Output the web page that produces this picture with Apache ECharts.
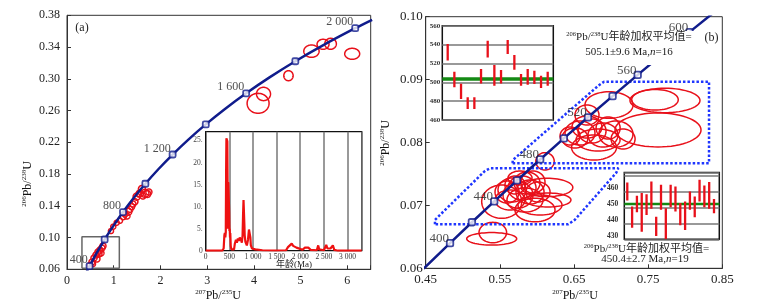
<!DOCTYPE html>
<html><head><meta charset="utf-8">
<script src="https://cdn.jsdelivr.net/npm/echarts@6/dist/echarts.min.js"></script>
<style>html,body{margin:0;padding:0;background:#fff}#c{width:769px;height:306px}</style>
</head><body><div id="c"></div>
<script>
// ---------- DATA ----------
// Concordia (a): age (Ma), 207Pb/235U, 206Pb/238U
const concA_age = [300,400,500,600,700,800,900,1000,1100,1200,1300,1400,1500,1600,1700,1800,1900,2000,2050];
const concA_x = [0.34374,0.48281,0.63628,0.80564,0.99251,1.19873,1.42629,1.67741,1.95452,2.26030,2.59774,2.97010,3.38099,3.83442,4.33468,4.88690,5.49619,6.16852,6.53036];
const concA_y = [0.047637,0.064016,0.08065,0.097544,0.11470,0.13213,0.14983,0.16780,0.18606,0.20460,0.22344,0.24256,0.26199,0.28172,0.30175,0.32211,0.34277,0.36377,0.37438];
const markA_ages = [400,600,800,1000,1200,1400,1600,1800,2000];
const labelA_ages = [400,800,1200,1600,2000];

// Concordia (b)
const concB_age = [370,400,420,440,460,480,500,520,540,560,580,600,620,640];
const concB_x = [0.43964,0.48281,0.51231,0.54239,0.57307,0.60437,0.63628,0.66883,0.70203,0.73588,0.77041,0.80564,0.84155,0.87818];
const concB_y = [0.059075,0.064016,0.067322,0.070638,0.073965,0.077302,0.08065,0.084008,0.087376,0.090755,0.094144,0.097544,0.100954,0.104376];
const markB_ages = [400,420,440,460,480,500,520,540,560,580,600];
const labelB_ages = [400,440,480,520,560,600];

// Ellipses (a): x, y, rx, ry
const ellA_x = [4.090,4.206,4.740,5.232,5.480,5.641,6.104,
  0.535,0.577,0.620,0.663,0.706,0.748,0.684,0.641,0.727,0.556,0.770,0.492,
  0.941,0.990,1.063,1.133,1.204,1.240,1.311,1.347,1.383,1.454,1.411,1.283,
  1.490,1.561,1.668,1.717,1.539,1.604,1.625,1.753];
const ellA_y = [0.2691,0.2809,0.3039,0.3348,0.3435,0.3441,0.3315,
  0.0692,0.0742,0.0780,0.0818,0.0843,0.0868,0.0793,0.0730,0.0805,0.0667,0.0894,0.0654,
  0.1082,0.1137,0.1187,0.1212,0.1263,0.1297,0.1326,0.1356,0.1389,0.1452,0.1423,0.1271,
  0.1515,0.1557,0.1557,0.1549,0.1548,0.1612,0.1523,0.1574];
const ellA_rx = [0.235,0.150,0.100,0.164,0.128,0.124,0.160,
  0.064,0.064,0.064,0.064,0.064,0.064,0.064,0.064,0.064,0.054,0.064,0.054,
  0.054,0.054,0.054,0.054,0.064,0.064,0.075,0.064,0.064,0.064,0.064,0.064,
  0.075,0.075,0.085,0.075,0.064,0.075,0.064,0.064];
const ellA_ry = [0.0126,0.0084,0.0063,0.0078,0.0063,0.0069,0.0069,
  0.0038,0.0038,0.0038,0.0038,0.0038,0.0038,0.0038,0.0038,0.0038,0.0032,0.0038,0.0032,
  0.0032,0.0032,0.0032,0.0032,0.0038,0.0038,0.0044,0.0038,0.0038,0.0038,0.0038,0.0038,
  0.0044,0.0044,0.0050,0.0044,0.0038,0.0044,0.0038,0.0038];

// Ellipses (b)
const ellB_x = [0.7633,0.7727,0.7592,0.6972,0.6675,0.6770,0.6581,0.6743,0.6891,0.7066,0.6513,0.6824,0.7162,0.6675,0.6447,0.6960,0.6109,
  0.5390,0.5405,0.5525,0.6136,0.5974,0.6149,0.6041,0.5799,0.5866,0.5947,0.5664,0.5745,0.5597,0.5907,0.5704,0.5839,0.6015,0.5637,0.5772];
const ellB_y = [0.08199,0.08668,0.08680,0.08596,0.08437,0.07921,0.08151,0.08183,0.08119,0.08135,0.08072,0.08040,0.08056,0.08246,0.08103,0.08230,0.07701,
  0.06469,0.06569,0.07059,0.07285,0.06927,0.07086,0.07006,0.07277,0.07356,0.07372,0.07245,0.07165,0.07213,0.07213,0.07324,0.07086,0.07213,0.07086,0.07436];
const ellB_rx = [0.0580,0.0472,0.0314,0.0324,0.0162,0.0303,0.0202,0.0189,0.0202,0.0229,0.0175,0.0297,0.0162,0.0202,0.0135,0.0162,0.0124,
  0.0337,0.0186,0.0270,0.0348,0.0270,0.0310,0.0297,0.0189,0.0175,0.0162,0.0189,0.0202,0.0162,0.0189,0.0135,0.0243,0.0162,0.0202,0.0162];
const ellB_ry = [0.00270,0.00194,0.00164,0.00211,0.00159,0.00199,0.00191,0.00191,0.00191,0.00207,0.00159,0.00175,0.00159,0.00175,0.00143,0.00175,0.00138,
  0.00099,0.00162,0.00265,0.00146,0.00188,0.00111,0.00159,0.00191,0.00175,0.00175,0.00191,0.00207,0.00175,0.00191,0.00143,0.00191,0.00159,0.00159,0.00111];

// Dotted group outlines (b)
const boxUp_x = [0.5673,0.5673,0.6831,0.6905,0.8321,0.8321,0.5673];
const boxUp_y = [0.0767,0.0772,0.08906,0.08967,0.08967,0.0767,0.0767];
const boxLo_x = [0.4625,0.4625,0.5300,0.5370,0.7097,0.7070,0.6510,0.6423,0.4625];
const boxLo_y = [0.0670,0.0677,0.0755,0.0759,0.0759,0.0752,0.0677,0.0670,0.0670];

// Gray zoom box (a)
const zoomBox_x = [0.32,1.12,1.12,0.32,0.32];
const zoomBox_y = [0.0613,0.0613,0.1011,0.1011,0.0613];

// Age probability curve (inset a)
const histAge = [0,350,380,395,405,415,425,432,438,445,452,458,463,468,472,478,484,490,496,502,508,514,520,530,545,600,615,640,660,680,700,720,745,765,780,790,800,810,818,825,840,870,895,915,925,935,945,955,980,1050,1200,1500,1700,1740,1780,1820,1850,1880,1920,1960,2050,2100,2130,2170,2220,2350,2380,2400,2500,2550,2575,2640,2690,2720,2800,3300];
const histVal = [0,0,0.5,3.5,4,3,4.2,18,25.5,25.2,25.4,24.8,16,7,5,15.5,15.2,15.5,9,4.5,5,3,4,1,0.3,0.3,1.5,2.5,1.8,2.8,2.2,3,2.5,1.8,3.5,8,11.5,11.2,6,3.5,2,1.2,2.5,4.8,5,4.6,3,1.2,0.5,0.3,0.1,0.05,0.1,0.8,1,1.6,1.1,1.5,0.7,0.3,0.2,0.7,0.5,0.7,0.2,0.1,1.2,0.3,0.1,1.3,0.5,0.5,1.2,0.2,0,0];

// Weighted-mean insets (b): 206Pb/238U ages, low/high
const tlLow  = [523.0,494.6,482.3,471.7,471.7,498.8,526.4,496.4,498.8,530.0,513.3,496.4,497.4,498.2,493.9,496.4];
const tlHigh = [540.6,511.2,498.5,484.0,484.0,514.1,544.1,518.3,513.0,544.8,528.9,508.8,514.1,512.3,507.0,511.2];
const tlMean = 503.5;
const brLow  = [452.2,435.2,444.9,432.7,443.2,447.0,430.0,446.4,427.9,448.0,445.3,436.7,433.8,446.4,441.8,451.6,448.0,447.0,444.3];
const brHigh = [463.5,448.4,455.2,456.9,456.2,464.2,442.1,462.1,447.4,462.1,461.0,450.6,451.6,457.9,454.7,465.2,461.6,463.8,453.1];
const brMean = 450.0;

const aYTicks = [0.06,0.10,0.14,0.18,0.22,0.26,0.30,0.34,0.38];
const bXTicks = [0.45,0.55,0.65,0.75,0.85];
const brYTicks = [430,440,450,460];

// ---------- CHART ----------
const serif = "'Liberation Serif','Times New Roman',serif";
const cjk = "'Liberation Serif','Noto Sans CJK SC',serif";
const RED = '#e8101a', BLUE = '#101c8c', DOT = '#1f36ff', GREEN = '#148a14';

const chart = echarts.init(document.getElementById('c'), null, {renderer:'canvas'});

function ellipseItem(lw){
  return function(params, api){
    const c = api.coord([api.value(0), api.value(1)]);
    const s = api.size([api.value(2), api.value(3)]);
    const pts = [];
    for (let k = 0; k < 60; k++) {
      const t = k / 60 * Math.PI * 2;
      pts.push([c[0] + s[0] * Math.cos(t), c[1] + s[1] * Math.sin(t)]);
    }
    return {type:'polygon', shape:{points:pts}, style:{fill:'none', stroke:RED, lineWidth:lw}};
  };
}
function barItem(params, api){
  const a = api.coord([api.value(0), api.value(1)]);
  const b = api.coord([api.value(0), api.value(2)]);
  return {type:'line', shape:{x1:a[0],y1:a[1],x2:b[0],y2:b[1]}, style:{stroke:RED, lineWidth:2.3}};
}
const zip = (xs, ys) => xs.map((x,i)=>[x, ys[i]]);
const fmtAge = v => v >= 1000 ? (Math.floor(v/1000) + ' ' + String(v%1000).padStart(3,'0')) : String(v);
const isMult = (v, m) => Math.abs(v - Math.round(v/m)*m) < 1e-6;

const mainAxisLine = {lineStyle:{color:'#333', width:1}};
const mainTick = {inside:true, length:4, lineStyle:{color:'#333'}};

const option = {
  animation:false,
  backgroundColor:'#fff',
  grid:[
    {left:67, top:15.3, width:303.7, height:254, show:true, borderColor:'#333', borderWidth:1, backgroundColor:'rgba(0,0,0,0)'},
    {left:205.7, top:131.7, width:156, height:119, show:true, borderColor:'#111', borderWidth:1.3, backgroundColor:'#fff'},
    {left:425.7, top:16.7, width:296.6, height:251.6, show:true, borderColor:'#333', borderWidth:1, backgroundColor:'rgba(0,0,0,0)'},
    {left:442.3, top:25.7, width:111, height:94.3, show:true, borderColor:'#111', borderWidth:1.5, backgroundColor:'#fff'},
    {left:624.3, top:172.5, width:95, height:66.8, show:true, borderColor:'#111', borderWidth:1.5, backgroundColor:'#fff'}
  ],
  xAxis:[
    {gridIndex:0, type:'value', min:0, max:6.5, interval:1, axisLine:mainAxisLine, axisTick:mainTick,
      axisLabel:{fontSize:12, color:'#222', fontFamily:serif, margin:6, formatter:v=>isMult(v,1)?String(Math.round(v)):''}, splitLine:{show:false}},
    {gridIndex:1, type:'value', min:0, max:3300, interval:500, axisLine:{lineStyle:{color:'#111'}}, axisTick:{show:false},
      axisLabel:{fontSize:7.5, color:'#333', fontFamily:serif, margin:2, formatter:v=>isMult(v,500)?fmtAge(v):''},
      splitLine:{show:true, lineStyle:{color:'#777', width:1.5}}},
    {gridIndex:2, type:'value', min:0.45, max:0.85, axisLine:mainAxisLine,
      axisTick:Object.assign({customValues:bXTicks}, mainTick),
      axisLabel:{customValues:bXTicks, fontSize:13, color:'#222', fontFamily:serif, margin:5, formatter:v=>v.toFixed(2)}, splitLine:{show:false}},
    {gridIndex:3, type:'value', min:0.19, max:16.84, show:false},
    {gridIndex:4, type:'value', min:0.38, max:20.1, show:false}
  ],
  yAxis:[
    {gridIndex:0, type:'value', min:0.06, max:0.38, axisLine:mainAxisLine,
      axisTick:Object.assign({customValues:aYTicks}, mainTick),
      axisLabel:{customValues:aYTicks, fontSize:12, color:'#222', fontFamily:serif, margin:7, formatter:v=>v.toFixed(2)}, splitLine:{show:false}},
    {gridIndex:1, type:'value', min:0, max:27, interval:5, axisLine:{lineStyle:{color:'#111'}}, axisTick:{show:false},
      axisLabel:{fontSize:7.5, color:'#444', fontFamily:serif, margin:3, formatter:v=>isMult(v,5)?(v===0?'0':Math.round(v)+'.'):''}, splitLine:{show:false}},
    {gridIndex:2, type:'value', min:0.06, max:0.10, interval:0.01, axisLine:mainAxisLine, axisTick:mainTick,
      axisLabel:{fontSize:13, color:'#222', fontFamily:serif, margin:3, formatter:v=>v.toFixed(2)}, splitLine:{show:false}},
    {gridIndex:3, type:'value', min:460, max:560, interval:20, axisLine:{show:false}, axisTick:{show:false},
      axisLabel:{fontSize:7, fontWeight:'bold', color:'#333', fontFamily:serif, margin:2},
      splitLine:{show:true, lineStyle:{color:'#777', width:1.5}}},
    {gridIndex:4, type:'value', min:427.9, max:469.8, interval:10, axisLine:{show:false}, axisTick:{show:false},
      axisLabel:{customValues:brYTicks, fontSize:7.5, fontWeight:'bold', color:'#333', fontFamily:serif, margin:6, formatter:v=>String(Math.round(v))},
      splitLine:{show:true, lineStyle:{color:'#777', width:1.5}}}
  ],
  series:[
    // ---- (a) ----
    {type:'custom', xAxisIndex:0, yAxisIndex:0, clip:true, z:2, renderItem:ellipseItem(1.5),
      data:ellA_x.map((x,i)=>[x, ellA_y[i], ellA_rx[i], ellA_ry[i]])},
    {type:'line', xAxisIndex:0, yAxisIndex:0, data:zip(zoomBox_x, zoomBox_y), symbol:'none', z:3,
      lineStyle:{color:'#666', width:1.5}},
    {type:'line', xAxisIndex:0, yAxisIndex:0, data:zip(concA_x, concA_y), symbol:'none', smooth:0.3, clip:true, z:4,
      lineStyle:{color:BLUE, width:2.5}},
    {type:'scatter', xAxisIndex:0, yAxisIndex:0, z:5, symbol:'roundRect', symbolSize:6,
      itemStyle:{color:'#fff', borderColor:BLUE, borderWidth:1.8},
      data:concA_age.map((a,i)=>[concA_x[i], concA_y[i], a]).filter(d=>markA_ages.includes(d[2])),
      label:{show:true, position:'left', distance:1, offset:[3,-6], fontSize:12, color:'#222', fontFamily:serif,
        formatter:p=>labelA_ages.includes(p.value[2])?fmtAge(p.value[2]):''}},
    {type:'line', xAxisIndex:1, yAxisIndex:1, data:zip(histAge, histVal), symbol:'none', z:5,
      lineStyle:{color:'#ee1111', width:2.2}},
    // ---- (b) ----
    {type:'custom', xAxisIndex:2, yAxisIndex:2, clip:true, z:2, renderItem:ellipseItem(1.5),
      data:ellB_x.map((x,i)=>[x, ellB_y[i], ellB_rx[i], ellB_ry[i]])},
    {type:'line', xAxisIndex:2, yAxisIndex:2, data:zip(boxUp_x, boxUp_y), symbol:'none', z:3,
      lineStyle:{color:DOT, width:2.5, type:[2.5,2]}},
    {type:'line', xAxisIndex:2, yAxisIndex:2, data:zip(boxLo_x, boxLo_y), symbol:'none', z:3,
      lineStyle:{color:DOT, width:2.5, type:[2.5,2]}},
    {type:'line', xAxisIndex:2, yAxisIndex:2, data:zip(concB_x, concB_y), symbol:'none', clip:true, z:4,
      lineStyle:{color:BLUE, width:2.5}},
    {type:'scatter', xAxisIndex:2, yAxisIndex:2, z:5, symbol:'roundRect', symbolSize:6.5,
      itemStyle:{color:'#fff', borderColor:BLUE, borderWidth:1.8},
      data:concB_age.map((a,i)=>[concB_x[i], concB_y[i], a]).filter(d=>markB_ages.includes(d[2])),
      label:{show:true, position:'left', distance:1, offset:[4,-4.5], fontSize:13, color:'#222', fontFamily:serif,
        formatter:p=>labelB_ages.includes(p.value[2])?String(p.value[2]):''}},
    // insets
    {type:'line', xAxisIndex:3, yAxisIndex:3, data:[[0.19,tlMean],[16.84,tlMean]], symbol:'none', z:4,
      lineStyle:{color:GREEN, width:3.5}},
    {type:'custom', xAxisIndex:3, yAxisIndex:3, clip:true, z:5, renderItem:barItem,
      data:tlLow.map((l,i)=>[i+1, l, tlHigh[i]])},
    {type:'line', xAxisIndex:4, yAxisIndex:4, data:[[0.38,brMean],[20.1,brMean]], symbol:'none', z:4,
      lineStyle:{color:GREEN, width:2.5}},
    {type:'custom', xAxisIndex:4, yAxisIndex:4, clip:true, z:5, renderItem:barItem,
      data:brLow.map((l,i)=>[i+1, l, brHigh[i]])}
  ],
  graphic:[
    {type:'text', x:28, y:184, rotation:Math.PI/2, z:100,
      style:{text:'{s|206}Pb/{s|238}U', fontSize:12, fontFamily:serif, fill:'#111', align:'center', verticalAlign:'middle',
        rich:{s:{fontSize:7, fontFamily:serif, padding:[0,0,7,0]}}}},
    {type:'text', x:218, y:296, z:100,
      style:{text:'{s|207}Pb/{s|235}U', fontSize:12, fontFamily:serif, fill:'#111', align:'center', verticalAlign:'middle',
        rich:{s:{fontSize:7, fontFamily:serif, padding:[0,0,7,0]}}}},
    {type:'text', x:386, y:143, rotation:Math.PI/2, z:100,
      style:{text:'{s|206}Pb/{s|238}U', fontSize:12, fontFamily:serif, fill:'#111', align:'center', verticalAlign:'middle',
        rich:{s:{fontSize:7, fontFamily:serif, padding:[0,0,7,0]}}}},
    {type:'text', x:575, y:296, z:100,
      style:{text:'{s|207}Pb/{s|235}U', fontSize:12, fontFamily:serif, fill:'#111', align:'center', verticalAlign:'middle',
        rich:{s:{fontSize:7, fontFamily:serif, padding:[0,0,7,0]}}}},
    {type:'text', x:82, y:28, z:100, style:{text:'(a)', fontSize:12, fontFamily:serif, fill:'#222', align:'center', verticalAlign:'middle'}},
    {type:'text', x:711.5, y:37.5, z:100, style:{text:'(b)', fontSize:12, fontFamily:serif, fill:'#222', align:'center', verticalAlign:'middle'}},
    {type:'text', x:294, y:265, z:100, style:{text:'年龄(Ma)', fontSize:9, fontFamily:cjk, fill:'#222', align:'center', verticalAlign:'middle'}},
    {type:'rect', shape:{x:563, y:31, width:131, height:34}, z:99, style:{fill:'#fff'}},
    {type:'text', x:629, y:37, z:100,
      style:{text:'{s|206}Pb/{s|238}U年龄加权平均值=', fontSize:11, fontFamily:cjk, fill:'#222', align:'center', verticalAlign:'middle',
        rich:{s:{fontSize:6.5, fontFamily:serif, padding:[0,0,6,0]}}}},
    {type:'text', x:629, y:52.5, z:100,
      style:{text:'505.1±9.6 Ma,{i|n}=16', fontSize:11, fontFamily:serif, fill:'#222', align:'center', verticalAlign:'middle',
        rich:{i:{fontStyle:'italic', fontSize:11, fontFamily:serif}}}},
    {type:'text', x:646.5, y:249, z:100,
      style:{text:'{s|206}Pb/{s|238}U年龄加权平均值=', fontSize:11, fontFamily:cjk, fill:'#222', align:'center', verticalAlign:'middle',
        rich:{s:{fontSize:6.5, fontFamily:serif, padding:[0,0,6,0]}}}},
    {type:'text', x:645, y:259.5, z:100,
      style:{text:'450.4±2.7 Ma,{i|n}=19', fontSize:11, fontFamily:serif, fill:'#222', align:'center', verticalAlign:'middle',
        rich:{i:{fontStyle:'italic', fontSize:11, fontFamily:serif}}}}
  ]
};
chart.setOption(option);
</script>
</body></html>
